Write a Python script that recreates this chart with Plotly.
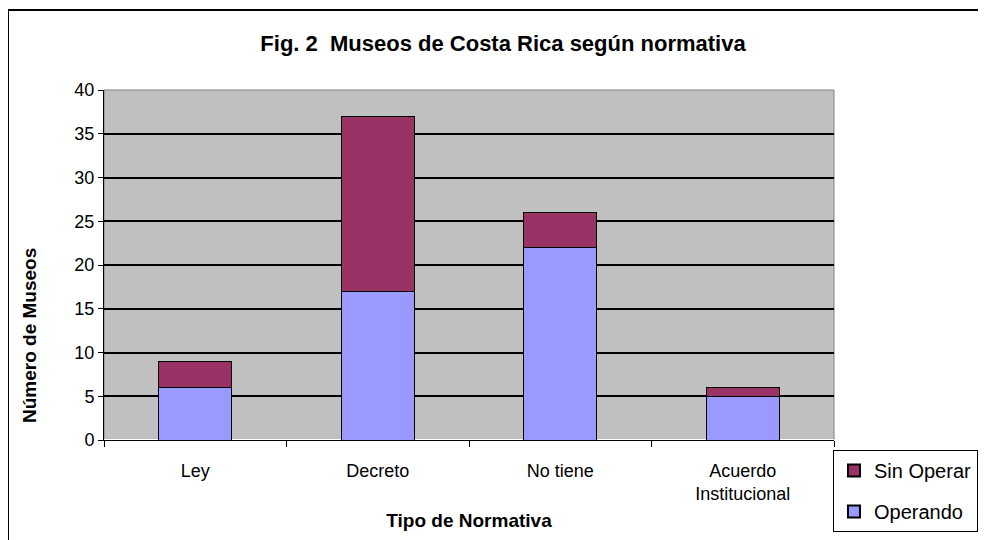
import plotly.graph_objects as go

categories = ["Ley", "Decreto", "No tiene", "Acuerdo<br>Institucional"]
operando = [6, 17, 22, 5]
sin_operar = [3, 20, 4, 1]
y_ticks = [0, 5, 10, 15, 20, 25, 30, 35, 40]

FONT = "Liberation Sans, Arial, sans-serif"

fig = go.Figure()
fig.add_trace(go.Bar(x=categories, y=operando, name="Operando", legendgroup="b", legendrank=2,
                     marker=dict(color="#9999ff", line=dict(color="black", width=1))))
fig.add_trace(go.Bar(x=categories, y=sin_operar, name="Sin Operar", legendgroup="a", legendrank=1,
                     marker=dict(color="#993366", line=dict(color="black", width=1))))

fig.update_layout(
    width=986, height=540,
    barmode="stack", bargap=0.6,
    paper_bgcolor="white", plot_bgcolor="#c0c0c0",
    margin=dict(l=96, r=160, t=82, b=108, autoexpand=False),
    font=dict(family=FONT, size=17, color="black"),
    title=dict(text="<b>Fig. 2  Museos de Costa Rica según normativa</b>",
               x=(503 - 104) / 730, xref="paper", xanchor="center",
               y=1 - 35 / 540, yref="container", yanchor="middle",
               font=dict(family=FONT, size=22, color="black")),
    showlegend=True,
    legend=dict(x=0.9986, xanchor="left", y=-0.0286, yanchor="top",
                traceorder="grouped", tracegroupgap=12,
                bordercolor="black", borderwidth=1,
                bgcolor="white", font=dict(family=FONT, size=20),
                itemsizing="constant"),
    xaxis=dict(showline=True, linecolor="black", linewidth=1,
               ticks="outside", tickson="boundaries", ticklen=6, tickcolor="black",
               ticklabelstandoff=14,
               tickfont=dict(family=FONT, size=18),
               title=dict(text="<b>Tipo de Normativa</b>", font=dict(family=FONT, size=19), standoff=10)),
    yaxis=dict(range=[0, 40], tickvals=y_ticks, showline=True, linecolor="black", linewidth=1,
               ticks="outside", ticklen=5, tickcolor="black",
               showgrid=True, gridcolor="black", gridwidth=1.5,
               tickfont=dict(family=FONT, size=18)),
    annotations=[
        dict(text="<b>Número de Museos</b>", xref="paper", yref="paper",
             x=(29 - 104) / 730, y=(440 - 336) / 350, xanchor="center", yanchor="middle",
             textangle=-90, showarrow=False, font=dict(family=FONT, size=19, color="black")),
    ],
    shapes=[
        dict(type="rect", xref="paper", yref="paper", x0=0, x1=1, y0=0, y1=1,
             line=dict(color="#808080", width=1), layer="below"),
        dict(type="rect", xref="paper", yref="paper",
             x0=(8 - 104) / 730, x1=1.4, y0=-0.5, y1=1 + 80 / 350,
             line=dict(color="black", width=2)),
    ],
)

fig.write_html("out.html")
